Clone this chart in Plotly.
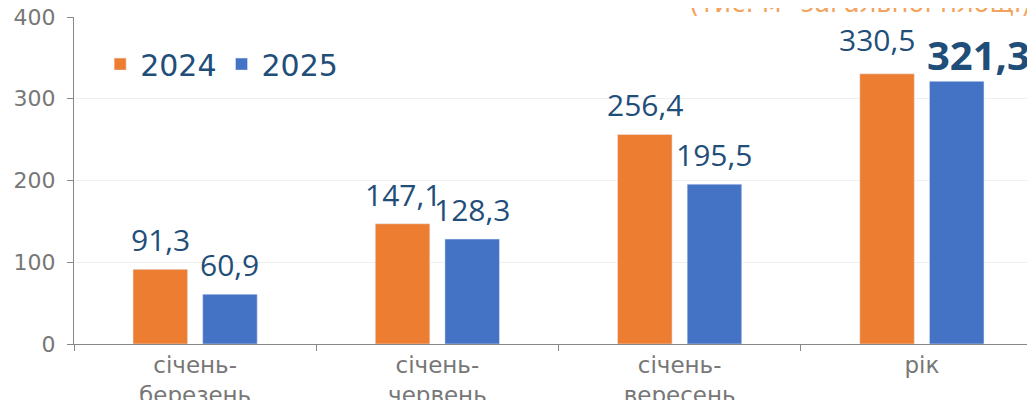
import plotly.graph_objects as go

categories = ["січень-<br>березень", "січень-<br>червень", "січень-<br>вересень", "рік"]
series_names = ["2024", "2025"]
values_2024 = [91.3, 147.1, 256.4, 330.5]
values_2025 = [60.9, 128.3, 195.5, 321.3]
y_ticks = [0, 100, 200, 300, 400]

ORANGE = "#ED7D31"
BLUE = "#4472C4"
LABEL = "#1F4E79"
FONT = "DejaVu Sans"
LFONT = "Open Sans"

def fmt(v):
    return f"{v:.1f}".replace(".", ",")

fig = go.Figure()
fig.add_trace(go.Bar(name=series_names[0], x=categories, y=values_2024, marker_color=ORANGE))
fig.add_trace(go.Bar(name=series_names[1], x=categories, y=values_2025, marker_color=BLUE))

# value labels (positioned relative to each bar)
SLOT = 34.8
for i, (cat, v1, v2) in enumerate(zip(categories, values_2024, values_2025)):
    last = i == len(categories) - 1
    fig.add_annotation(
        x=cat, y=v1, xref="x", yref="y", text=fmt(v1), showarrow=False,
        xanchor="center", yanchor="bottom",
        xshift=-SLOT - (10 if last else 0), yshift=12 if last else 7,
        font=dict(size=30, color=LABEL, family=LFONT),
    )
    fig.add_annotation(
        x=cat, y=v2, xref="x", yref="y",
        text=("<b>" + fmt(v2) + "</b>") if last else fmt(v2), showarrow=False,
        xanchor="center", yanchor="bottom",
        xshift=SLOT + (22 if last else 0), yshift=-3 if last else 7,
        font=dict(size=40 if last else 30, color=LABEL, family=LFONT),
    )

fig.update_layout(
    width=1035, height=400,
    margin=dict(l=66, r=0, t=9, b=64, autoexpand=False),
    plot_bgcolor="white", paper_bgcolor="white",
    barmode="group", bargap=0.425, bargroupgap=0.217,
    font=dict(family=FONT, color="#777777"),
    legend=dict(
        orientation="h", x=0.027, y=0.856, xanchor="left", yanchor="middle",
        font=dict(size=30, color=LABEL, family=FONT), bgcolor="rgba(0,0,0,0)",
        itemwidth=30,
    ),
    showlegend=True,
)
fig.update_yaxes(
    range=[0, 400], tickvals=y_ticks, showgrid=True, gridcolor="#F0F0F0",
    showline=True, linecolor="#888888", linewidth=1, automargin=False,
    ticks="outside", ticklen=6, tickcolor="#888888", ticklabelstandoff=7,
    ticklabeloverflow="allow",
    tickfont=dict(size=22, color="#777777", family=FONT), zeroline=False,
)
fig.update_xaxes(
    showline=True, linecolor="#888888", linewidth=1, automargin=False,
    ticks="outside", ticklen=6, tickcolor="#888888", tickson="boundaries",
    ticklabeloverflow="allow",
    tickfont=dict(size=23, color="#777777", family=FONT),
)
fig.add_annotation(
    text="(тис. м² загальної площі)", xref="paper", yref="paper",
    x=0.99, y=0.99, xanchor="right", yanchor="bottom", showarrow=False,
    font=dict(size=26, color="#F2A35E", family=FONT),
)

fig.write_html("out.html")
